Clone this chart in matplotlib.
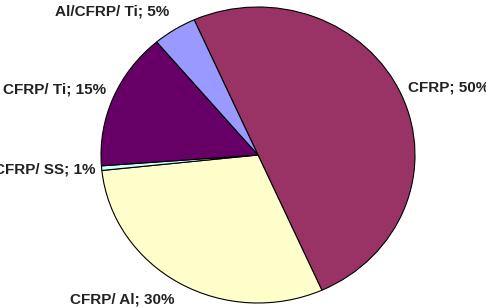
import matplotlib
matplotlib.use("Agg")
import matplotlib.pyplot as plt

names = ["CFRP", "CFRP/ Al", "CFRP/ SS", "CFRP/ Ti", "Al/CFRP/ Ti"]
shares = [50, 30, 0.5, 15, 4.5]
shown = ["50%", "30%", "1%", "15%", "5%"]
colors = ["#993366", "#FFFFCC", "#CCFFFF", "#660066", "#9999FF"]

W, H = 486, 308
cx, cy, rx, ry = 258, 155, 157, 148

fig = plt.figure(figsize=(W / 100, H / 100), dpi=100)
ax = fig.add_axes([0, 0, 1, 1])
ax.pie(shares, colors=colors, startangle=114, counterclock=False,
       wedgeprops=dict(edgecolor="black", linewidth=0.8))
ax.set_aspect("auto")
ax.set_xlim(-cx / rx, (W - cx) / rx)
ax.set_ylim(-(H - cy) / ry, cy / ry)
ax.axis("off")

# label spots in pixels: (x, y from top, alignment)
spots = [(408, 88, "left"), (70, 299, "left"), (95, 170, "right"),
         (3, 89, "left"), (55, 12, "left")]
for name, pct, (px, py, ha) in zip(names, shown, spots):
    fig.text(px / W, 1 - py / H, f"{name}; {pct}", ha=ha, va="center",
             fontsize=11, fontweight="bold", color="#222222",
             family="Liberation Sans")

fig.savefig("out.png", dpi=100)
